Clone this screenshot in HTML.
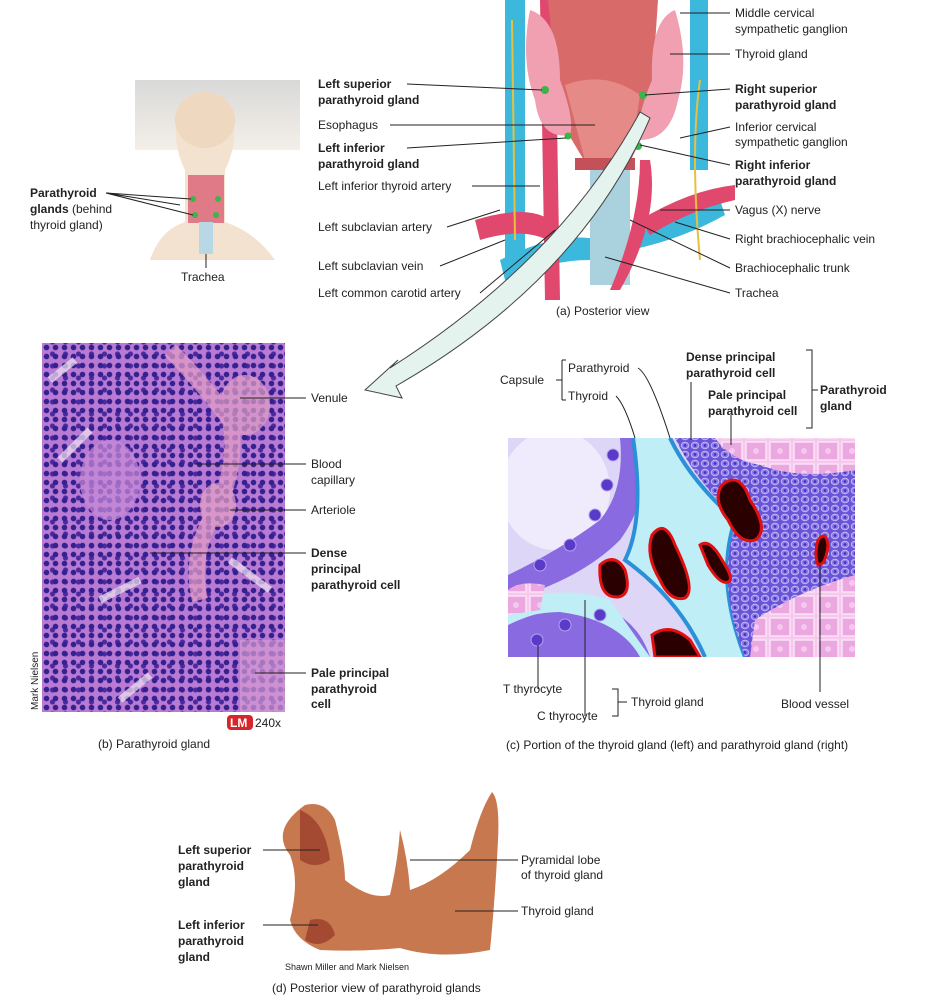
<!DOCTYPE html>
<html><head><meta charset="utf-8"><style>
html,body{margin:0;padding:0;background:#fff;}
body{width:929px;height:998px;position:relative;overflow:hidden;font-family:"Liberation Sans",Arial,sans-serif;}
svg text{font-family:"Liberation Sans",Arial,sans-serif;font-size:12px;fill:#222;}
.b{font-weight:bold;}
.micro{position:absolute;left:42px;top:343px;width:243px;height:369px;
background-color:#b87ad2;
background-image:radial-gradient(circle,#34208e 2.4px,transparent 3.1px),radial-gradient(circle,#4a2aa0 2.2px,transparent 2.9px);
background-size:9px 9px,13px 12px;background-position:0 0,4px 5px;}
</style></head><body>
<div class="micro"></div>
<svg width="929" height="998" style="position:absolute;left:0;top:0">
<defs>
<linearGradient id="fog" x1="0" y1="0" x2="0" y2="1"><stop offset="0" stop-color="#d9d9d9"/><stop offset="1" stop-color="#f4efe8"/></linearGradient>
<pattern id="tile" width="10" height="9" patternUnits="userSpaceOnUse"><rect width="10" height="9" fill="#6a55d8"/><ellipse cx="5" cy="4.5" rx="3.8" ry="3.3" fill="#8c7ce8" stroke="#c8c0f6" stroke-width="0.8"/><circle cx="5" cy="4.5" r="1.4" fill="#4a2ec0"/></pattern>
<pattern id="pink" width="24" height="22" patternUnits="userSpaceOnUse"><rect width="24" height="22" fill="#f6c8ee"/><path d="M2 2h20v18H2z" fill="#eaa7e0" stroke="#fbe2f6" stroke-width="1.5"/><circle cx="12" cy="11" r="3" fill="#f7c8ef"/></pattern>
<clipPath id="pc"><rect x="508" y="438" width="347" height="219"/></clipPath>
</defs>
<!-- micrograph blobs -->
<g opacity="0.7">
<path d="M170 350 Q200 380 230 420 Q240 470 210 520 Q190 560 200 600" stroke="#e6a0c8" stroke-width="16" fill="none"/>
<ellipse cx="218" cy="505" rx="18" ry="22" fill="#e7a2c4"/>
<ellipse cx="245" cy="405" rx="25" ry="30" fill="#e2a0c6"/>
<path d="M60 460 l30 -30 M230 560 l40 30 M100 600 l40 -20 M50 380 l25 -20 M120 700 l30 -25" stroke="#f1e6f2" stroke-width="7"/>
<rect x="240" y="640" width="45" height="72" fill="#d79ad4"/>
<ellipse cx="110" cy="480" rx="30" ry="40" fill="#c98ad8"/>
</g>
<!-- top-left neck figure -->
<rect x="135" y="80" width="165" height="70" fill="url(#fog)"/>
<path d="M150 260 Q160 230 185 222 L185 170 Q170 140 180 110 L230 110 Q240 140 225 170 L225 222 Q255 232 275 260 Z" fill="#f3e2cf"/>
<ellipse cx="205" cy="120" rx="30" ry="28" fill="#eed8c0"/>
<path d="M188 175 h36 v48 h-36z" fill="#e07a86"/>
<rect x="199" y="222" width="14" height="32" fill="#b8d8e6"/>
<circle cx="193" cy="199" r="3" fill="#3cb44a"/><circle cx="218" cy="199" r="3" fill="#3cb44a"/><circle cx="195" cy="215" r="3" fill="#3cb44a"/><circle cx="216" cy="215" r="3" fill="#3cb44a"/>
<g stroke="#222" stroke-width="1" fill="none">
<path d="M106 193 L191 199 M106 193 L193 215 M106 193 L180 205"/>
<path d="M206 254 L206 268"/>
</g>
<text x="30" y="197" class="b">Parathyroid</text>
<text x="30" y="213"><tspan class="b">glands</tspan> (behind</text>
<text x="30" y="229">thyroid gland)</text>
<text x="181" y="281">Trachea</text>
<!-- posterior view anatomy -->
<rect x="505" y="0" width="20" height="260" fill="#3bb8dc"/>
<rect x="690" y="0" width="18" height="170" fill="#3bb8dc"/>
<path d="M500 260 Q560 230 600 240 L640 232 Q690 215 720 200 L725 215 Q680 240 630 250 L590 260 Q550 260 505 280Z" fill="#3bb8dc"/>
<rect x="590" y="160" width="40" height="125" fill="#a9d2de"/>
<path d="M540 0 L545 300 L560 300 L555 0Z M650 160 Q660 220 620 290 L610 290 Q640 220 640 160Z" fill="#e0486e"/>
<path d="M475 220 Q540 200 560 230 L555 245 Q530 225 480 240Z M640 220 Q690 190 735 185 L735 200 Q690 210 650 235Z" fill="#e0486e"/>
<path d="M548 0 L658 0 L650 120 L630 162 L585 162 L560 120Z" fill="#d86a6a"/>
<path d="M565 85 Q605 70 640 95 L630 160 L585 160Z" fill="#e58a86"/>
<path d="M530 10 Q560 20 560 80 Q575 120 570 135 Q540 140 535 100 Q520 60 530 10Z" fill="#f0a0b0"/>
<path d="M675 10 Q650 20 652 80 Q635 120 640 140 Q670 140 678 100 Q690 60 675 10Z" fill="#f0a0b0"/>
<rect x="575" y="158" width="60" height="12" fill="#c4505a"/>
<g fill="#3cb44a"><circle cx="545" cy="90" r="4"/><circle cx="643" cy="95" r="4"/><circle cx="568" cy="136" r="3.5"/><circle cx="638" cy="146" r="4"/></g>
<path d="M512 20 L515 240 M700 80 Q690 150 700 260" stroke="#e8c040" stroke-width="2" fill="none"/>
<!-- big arrow -->
<path d="M640 112 Q560 260 390 368 L398 360 L365 390 L402 398 L396 386 Q580 280 650 118Z" fill="#e4f3ee" stroke="#444" stroke-width="1"/>
<g stroke="#222" stroke-width="1" fill="none">
<path d="M407 84 L542 90 M390 125 L595 125 M407 148 L566 138 M472 186 L540 186 M447 227 L500 210 M440 266 L505 240 M480 293 L555 230"/>
<path d="M730 13 L680 13 M730 54 L670 54 M730 89 L645 95 M730 127 L680 138 M730 165 L640 145 M730 210 L660 210 M730 239 L675 222 M730 268 L630 220 M730 293 L605 257"/>
</g>
<text x="318" y="88" class="b">Left superior</text><text x="318" y="104" class="b">parathyroid gland</text>
<text x="318" y="129">Esophagus</text>
<text x="318" y="152" class="b">Left inferior</text><text x="318" y="168" class="b">parathyroid gland</text>
<text x="318" y="190">Left inferior thyroid artery</text>
<text x="318" y="231">Left subclavian artery</text>
<text x="318" y="270">Left subclavian vein</text>
<text x="318" y="297">Left common carotid artery</text>
<text x="735" y="17">Middle cervical</text><text x="735" y="33">sympathetic ganglion</text>
<text x="735" y="58">Thyroid gland</text>
<text x="735" y="93" class="b">Right superior</text><text x="735" y="109" class="b">parathyroid gland</text>
<text x="735" y="131">Inferior cervical</text><text x="735" y="146">sympathetic ganglion</text>
<text x="735" y="169" class="b">Right inferior</text><text x="735" y="185" class="b">parathyroid gland</text>
<text x="735" y="214">Vagus (X) nerve</text>
<text x="735" y="243">Right brachiocephalic vein</text>
<text x="735" y="272">Brachiocephalic trunk</text>
<text x="735" y="297">Trachea</text>
<text x="556" y="315">(a) Posterior view</text>
<!-- micrograph labels -->
<g stroke="#222" stroke-width="1"><path d="M240 398 H306 M195 464 H306 M230 510 H306 M150 553 H306 M255 673 H306"/></g>
<text x="311" y="402">Venule</text>
<text x="311" y="468">Blood</text><text x="311" y="484">capillary</text>
<text x="311" y="514">Arteriole</text>
<text x="311" y="557" class="b">Dense</text><text x="311" y="573" class="b">principal</text><text x="311" y="589" class="b">parathyroid cell</text>
<text x="311" y="677" class="b">Pale principal</text><text x="311" y="693" class="b">parathyroid</text><text x="311" y="708" class="b">cell</text>
<rect x="227" y="715" width="26" height="15" rx="4" fill="#d7262a"/>
<text x="230" y="727" style="fill:#fff;font-weight:bold">LM</text>
<text x="255" y="727">240x</text>
<text x="98" y="748">(b) Parathyroid gland</text>
<text transform="translate(38,710) rotate(-90)" style="font-size:10px">Mark Nielsen</text>
<!-- panel c -->
<g clip-path="url(#pc)">
<rect x="508" y="438" width="347" height="219" fill="#ded6f6"/>
<ellipse cx="555" cy="490" rx="55" ry="60" fill="#efeafc"/>
<path d="M508 575 Q560 550 600 520 Q625 490 620 438 L645 438 Q650 500 620 540 Q580 580 508 600Z" fill="#8a6ae0"/>
<path d="M508 625 Q560 600 610 610 Q640 625 650 657 L508 657Z" fill="#8a6ae0"/>
<path d="M508 600 Q570 585 610 600 L650 657 L640 657 Q620 620 560 612 Q530 612 508 625Z" fill="#bfeef6"/>
<g fill="#5a3ac8" stroke="#b4a0f0"><circle cx="613" cy="455" r="6"/><circle cx="607" cy="485" r="6"/><circle cx="595" cy="515" r="6"/><circle cx="570" cy="545" r="6"/><circle cx="540" cy="565" r="6"/><circle cx="537" cy="640" r="6"/><circle cx="565" cy="625" r="6"/><circle cx="600" cy="615" r="6"/></g>
<path d="M633 438 Q645 520 625 560 Q680 600 705 657 L745 657 Q715 580 735 520 Q690 480 670 438Z" fill="#bfeef6"/>
<path d="M633 438 Q645 520 625 560 Q680 600 705 657" stroke="#2a90d8" stroke-width="4" fill="none"/>
<path d="M670 438 Q690 480 735 520 Q715 580 745 657" stroke="#2a90d8" stroke-width="4" fill="none"/>
<path d="M675 438 L855 438 L855 620 Q800 580 750 657 L745 657 Q715 580 737 520 Q695 480 675 438Z" fill="url(#tile)"/>
<path d="M715 438 L855 438 L855 470 Q800 480 760 465 Q730 460 715 438Z" fill="url(#pink)"/>
<path d="M855 575 Q800 590 755 620 L750 657 L855 657Z" fill="url(#pink)"/>
<path d="M508 590 Q520 580 545 585 L540 610 L508 615Z" fill="url(#pink)"/>
<g fill="#2a0000" stroke="#e01010" stroke-width="3">
<path d="M722 485 Q740 470 750 500 Q770 530 755 540 Q740 545 728 520 Q712 500 722 485Z"/>
<path d="M652 535 Q665 518 675 545 Q697 590 685 598 Q670 602 660 580 Q645 555 652 535Z"/>
<path d="M700 545 Q710 538 722 560 Q735 580 728 582 Q720 585 708 565Z"/>
<path d="M600 565 Q615 552 625 570 Q632 595 618 597 Q598 598 600 565Z"/>
<path d="M652 635 Q670 622 690 640 Q700 657 700 657 L655 657 Z"/>
<path d="M818 540 Q826 530 828 545 Q826 565 818 565 Q814 555 818 540Z"/>
</g>
</g>
<g stroke="#222" stroke-width="1" fill="none">
<path d="M556 380 H562 M562 360 V400 M562 360 H566 M562 400 H566"/>
<path d="M638 368 Q650 375 670 438 M616 396 Q625 405 635 438 M691 382 V440 M731 415 V445"/>
<path d="M806 350 H812 V428 H806 M812 390 H818"/>
<path d="M538 645 V689 M585 600 V716 M612 689 H618 V716 H612 M618 702 H627 M820 565 V692"/>
</g>
<text x="500" y="384">Capsule</text>
<text x="568" y="372">Parathyroid</text><text x="568" y="400">Thyroid</text>
<text x="686" y="361" class="b">Dense principal</text><text x="686" y="377" class="b">parathyroid cell</text>
<text x="708" y="399" class="b">Pale principal</text><text x="708" y="415" class="b">parathyroid cell</text>
<text x="820" y="394" class="b">Parathyroid</text><text x="820" y="410" class="b">gland</text>
<text x="503" y="693">T thyrocyte</text>
<text x="537" y="720">C thyrocyte</text>
<text x="631" y="706">Thyroid gland</text>
<text x="781" y="708">Blood vessel</text>
<text x="506" y="749">(c) Portion of the thyroid gland (left) and parathyroid gland (right)</text>
<!-- panel d specimen -->
<path d="M305 805 Q325 800 335 820 Q345 860 345 880 Q370 900 390 895 Q398 860 400 830 Q408 860 410 890 Q440 880 470 850 Q480 810 492 792 Q500 800 498 840 Q495 900 490 950 Q440 960 400 948 Q360 952 320 950 Q295 940 290 920 Q300 880 290 855 Q270 830 305 805Z" fill="#c8784e"/>
<path d="M300 810 Q325 820 330 860 Q315 870 300 860Z M310 920 Q330 915 335 935 Q320 950 305 940Z" fill="#a44a32"/>
<g stroke="#222" stroke-width="1" fill="none">
<path d="M263 850 H320 M263 925 H318 M518 860 H410 M518 911 H455"/>
</g>
<text x="178" y="854" class="b">Left superior</text><text x="178" y="870" class="b">parathyroid</text><text x="178" y="886" class="b">gland</text>
<text x="178" y="929" class="b">Left inferior</text><text x="178" y="945" class="b">parathyroid</text><text x="178" y="961" class="b">gland</text>
<text x="521" y="864">Pyramidal lobe</text><text x="521" y="879">of thyroid gland</text>
<text x="521" y="915">Thyroid gland</text>
<text x="285" y="970" style="font-size:9px">Shawn Miller and Mark Nielsen</text>
<text x="272" y="992">(d) Posterior view of parathyroid glands</text>
</svg>
</body></html>
